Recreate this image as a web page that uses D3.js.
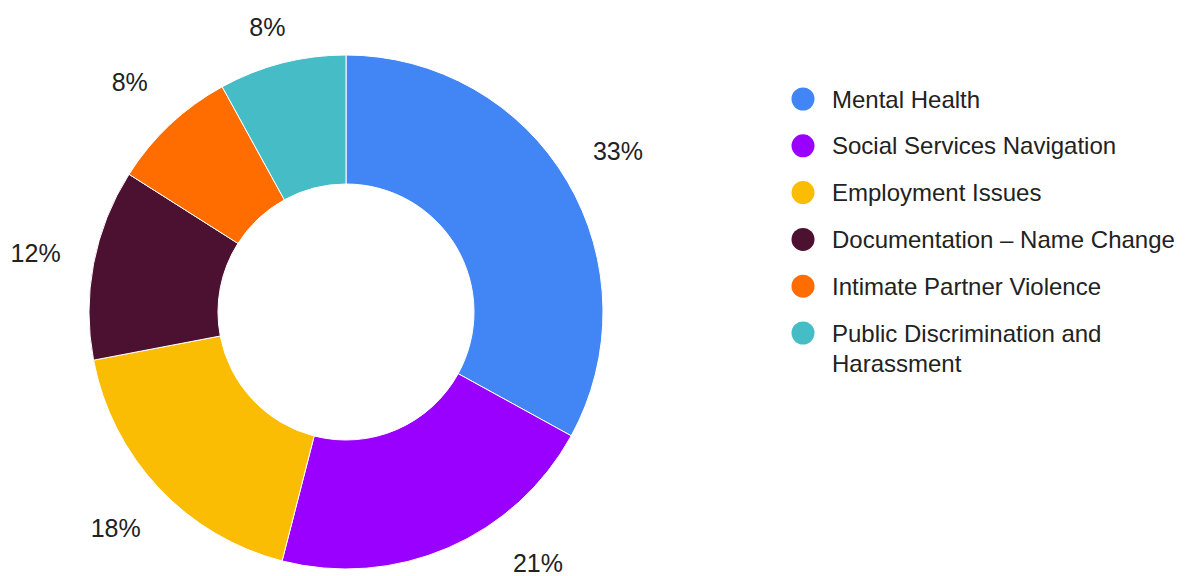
<!DOCTYPE html>
<html>
<head>
<meta charset="utf-8">
<script src="https://cdn.jsdelivr.net/npm/d3@7"></script>
<style>
  html, body { margin: 0; padding: 0; background: #fff; }
  svg { display: block; font-family: "Liberation Sans", Arial, sans-serif; }
</style>
</head>
<body>
<svg id="chart" width="1186" height="576"></svg>
<script>
// Share of cases by issue type (percent)
const categories = [
  "Mental Health",
  "Social Services Navigation",
  "Employment Issues",
  "Documentation \u2013 Name Change",
  "Intimate Partner Violence",
  "Public Discrimination and Harassment"
];
const values = [33, 21, 18, 12, 8, 8];
const colors = ["#4285f4", "#9900ff", "#fbbc04", "#4c1130", "#ff6d01", "#46bdc6"];
// Legend text split into display lines
const legendLines = [
  ["Mental Health"],
  ["Social Services Navigation"],
  ["Employment Issues"],
  ["Documentation \u2013 Name Change"],
  ["Intimate Partner Violence"],
  ["Public Discrimination and", "Harassment"]
];

const data = categories.map((c, i) => ({ name: c, value: values[i], color: colors[i], lines: legendLines[i] }));

const svg = d3.select("#chart");
const W = 1186, H = 576;
const cx = 346, cy = 312;
const outerR = 257, innerR = 128;
const labelR = 316;

const pie = d3.pie().value(d => d.value).sort(null);
const arc = d3.arc().innerRadius(innerR).outerRadius(outerR);
const arcs = pie(data);

const g = svg.append("g").attr("transform", `translate(${cx},${cy})`);

g.selectAll("path.slice")
  .data(arcs)
  .join("path")
  .attr("class", "slice")
  .attr("d", arc)
  .attr("fill", d => d.data.color)
  .attr("stroke", "#fff")
  .attr("stroke-width", 1);

// Value labels sit on a circle outside the ring; near the top they are
// held below the edge, near the bottom they slide along the circle.
const fmt = d => d3.format(".0f")(d.data.value) + "%";
const labelFont = 25;
const minY = -cy + 27;
const maxY = H - cy - 13;
g.selectAll("text.val")
  .data(arcs)
  .join("text")
  .attr("class", "val")
  .each(function (d) {
    const a = (d.startAngle + d.endAngle) / 2;
    let x = labelR * Math.sin(a);
    let y = -labelR * Math.cos(a);
    if (y < minY) {
      y = minY;
    } else if (y > maxY) {
      y = maxY;
      const s = Math.sign(x) || 1;
      x = s * Math.sqrt(Math.max(0, labelR * labelR - y * y));
    }
    d3.select(this).attr("x", x).attr("y", y);
  })
  .attr("text-anchor", "middle")
  .attr("dominant-baseline", "central")
  .attr("font-size", labelFont)
  .attr("fill", "#222")
  .text(fmt);

// Legend
const legend = svg.append("g").attr("transform", "translate(803,99)");
const rowStep = 46.8;
const item = legend.selectAll("g.item")
  .data(data)
  .join("g")
  .attr("class", "item")
  .attr("transform", (d, i) => `translate(0,${i * rowStep})`);

item.append("circle")
  .attr("r", 11.5)
  .attr("fill", d => d.color);

item.append("text")
  .attr("font-size", 24)
  .attr("fill", "#222")
  .selectAll("tspan")
  .data(d => d.lines)
  .join("tspan")
  .attr("x", 29)
  .attr("y", (d, i) => i * 30)
  .attr("dominant-baseline", "central")
  .text(d => d);
</script>
</body>
</html>
